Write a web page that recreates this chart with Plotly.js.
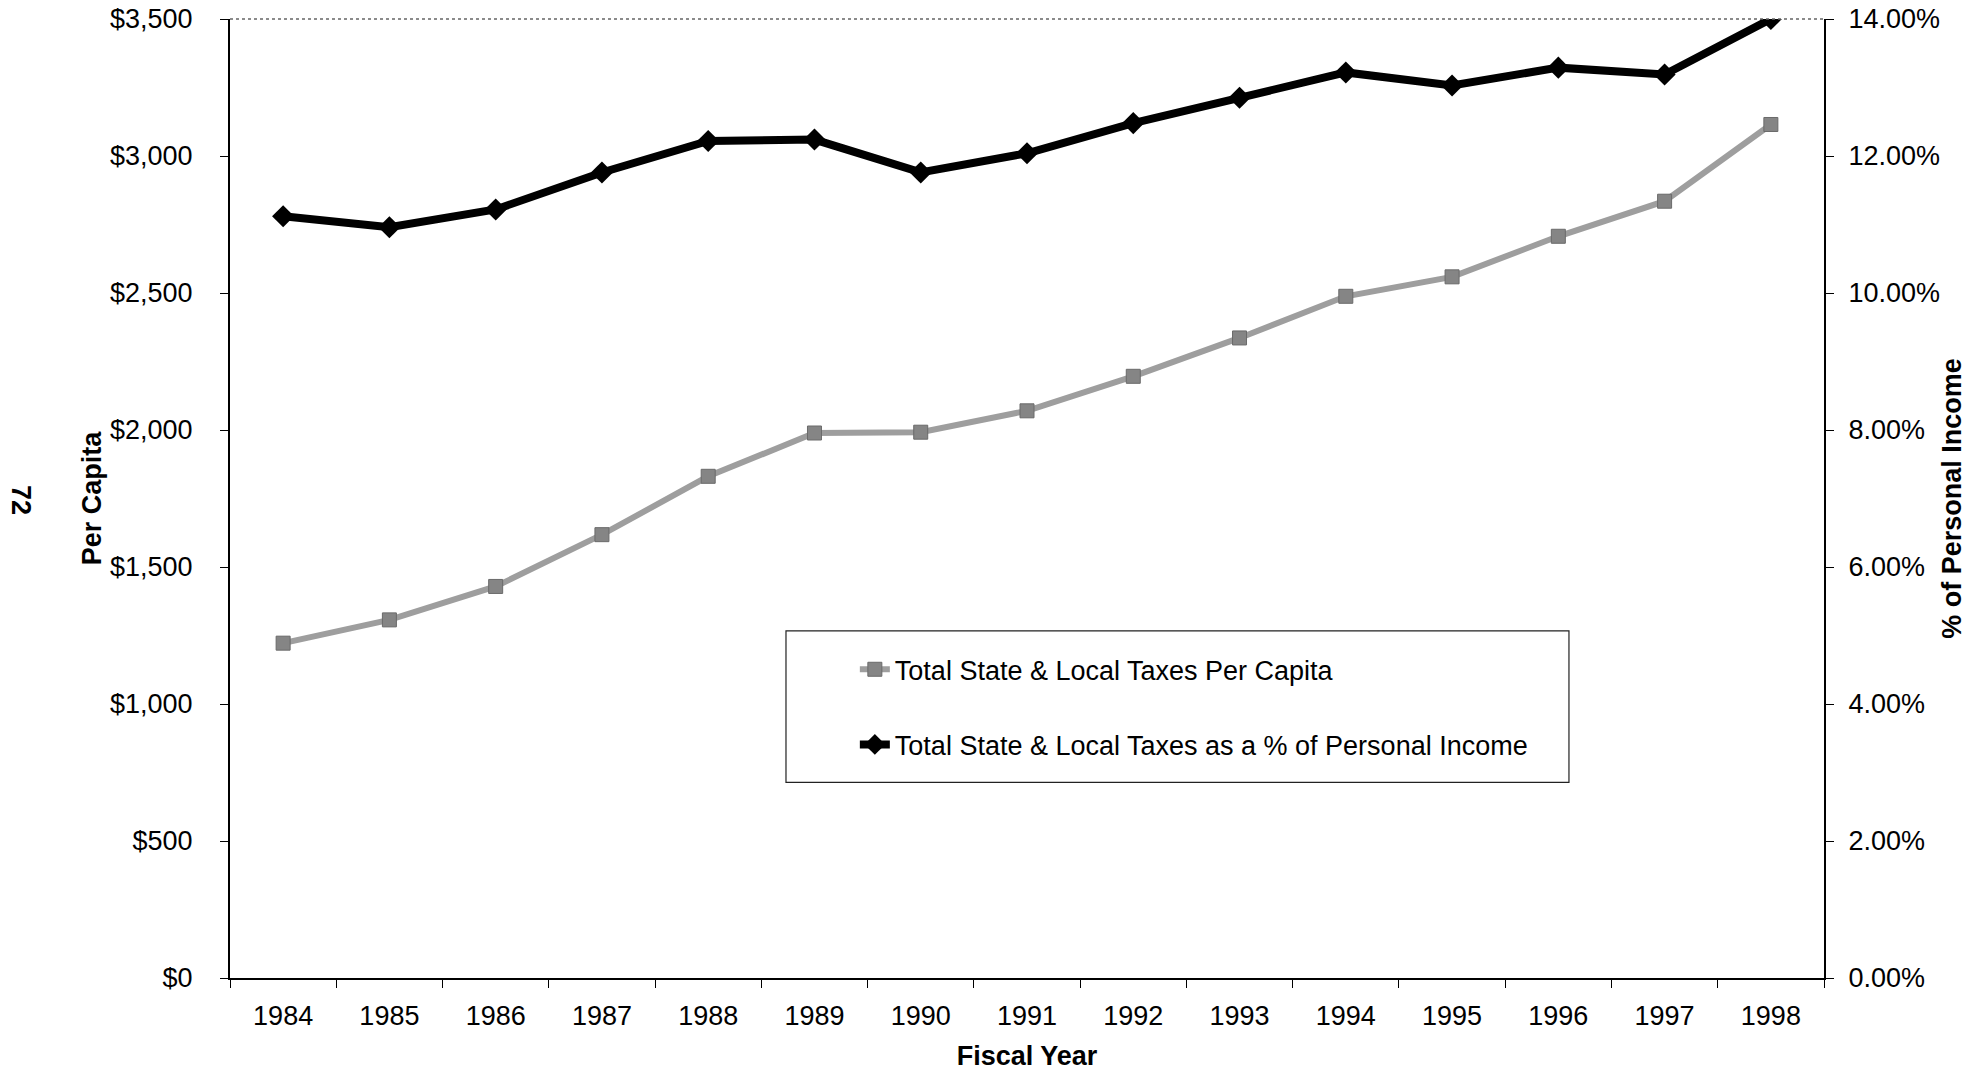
<!DOCTYPE html>
<html>
<head>
<meta charset="utf-8">
<script src="https://cdn.plot.ly/plotly-3.0.1.min.js"></script>
<style>html,body{margin:0;padding:0;background:#fff;}#chart{width:1979px;height:1071px;}</style>
</head>
<body>
<div id="chart"></div>
<script>
const years = ['1984','1985','1986','1987','1988','1989','1990','1991','1992','1993','1994','1995','1996','1997','1998'];
const perCapita = [1222, 1307, 1429, 1618, 1831, 1989, 1992, 2070, 2196, 2336, 2488, 2559, 2707, 2835, 3115];
const pctIncome = [0.1112, 0.1096, 0.1122, 0.1176, 0.1222, 0.1224, 0.1176, 0.1204, 0.1248, 0.1285, 0.1322, 0.1303, 0.1329, 0.1319, 0.1400];
const seriesNames = ['Total State & Local Taxes Per Capita', 'Total State & Local Taxes as a % of Personal Income'];

const FONT = 'Liberation Sans, Arial, sans-serif';

const traces = [
  {
    x: years, y: perCapita, name: seriesNames[0], type: 'scatter', mode: 'lines+markers',
    xaxis: 'x', yaxis: 'y', legendgroup: 'a',
    line: {color: '#9e9e9e', width: 6},
    marker: {symbol: 'square', size: 14, color: '#858585', line: {color: '#6a6a6a', width: 1}},
    hoverinfo: 'skip'
  },
  {
    x: years, y: pctIncome, name: seriesNames[1], type: 'scatter', mode: 'lines+markers',
    xaxis: 'x', yaxis: 'y2', legendgroup: 'b',
    line: {color: '#000000', width: 8},
    marker: {symbol: 'diamond', size: 17, color: '#000000'},
    hoverinfo: 'skip'
  }
];

const tickFont = {family: FONT, size: 27, color: '#000'};
const titleFont = {family: FONT, size: 27, color: '#000', weight: 'bold'};

const layout = {
  width: 1979, height: 1071,
  margin: {l: 230, r: 155, t: 19, b: 93},
  paper_bgcolor: '#fff', plot_bgcolor: '#fff',
  showlegend: true,
  legend: {
    x: 0.392, y: 0.347, xanchor: 'left', yanchor: 'top',
    bgcolor: 'rgba(0,0,0,0)', borderwidth: 0,
    font: {family: FONT, size: 27, color: '#000'},
    tracegroupgap: 37, itemwidth: 30
  },
  xaxis: {
    type: 'category', categoryorder: 'array', categoryarray: years,
    range: [-0.5, 14.5], tickson: 'boundaries',
    ticks: 'outside', ticklen: 8, tickwidth: 1, tickcolor: '#000',
    showline: true, linecolor: '#000', linewidth: 2, mirror: false,
    showgrid: false, zeroline: false,
    tickfont: tickFont, ticklabelstandoff: 13,
    title: {text: 'Fiscal Year', font: titleFont, standoff: 17}
  },
  xaxis2: {
    overlaying: 'x', anchor: 'y', side: 'bottom', range: [-0.5, 14.5],
    tick0: -0.5, dtick: 1, ticks: 'inside', ticklen: 7, tickwidth: 1, tickcolor: '#000',
    showticklabels: false, showline: false, showgrid: false, zeroline: false
  },
  yaxis: {
    range: [0, 3500], dtick: 500, tickprefix: '$', tickformat: ',',
    ticks: 'outside', ticklen: 8, tickwidth: 1, tickcolor: '#000',
    showline: true, linecolor: '#000', linewidth: 2,
    showgrid: false, zeroline: false,
    tickfont: tickFont, ticklabelstandoff: 22,
    title: {text: 'Per Capita', font: titleFont, standoff: 1}
  },
  yaxis3: {
    overlaying: 'y', anchor: 'x', side: 'left', range: [0, 3500], dtick: 500,
    ticks: 'inside', ticklen: 8, tickwidth: 1, tickcolor: '#000',
    showticklabels: false, showline: false, showgrid: false, zeroline: false
  },
  yaxis2: {
    overlaying: 'y', side: 'right', anchor: 'x',
    range: [0, 0.14], dtick: 0.02, tickformat: '.2%',
    ticks: 'outside', ticklen: 8, tickwidth: 1, tickcolor: '#000',
    showline: true, linecolor: '#000', linewidth: 2,
    showgrid: false, zeroline: false,
    tickfont: tickFont, ticklabelstandoff: 9,
    title: {text: '% of Personal Income', font: titleFont, standoff: 3}
  },
  yaxis4: {
    overlaying: 'y', side: 'right', anchor: 'x',
    range: [0, 0.14], dtick: 0.02,
    ticks: 'inside', ticklen: 8, tickwidth: 1, tickcolor: '#000',
    showticklabels: false, showline: false, showgrid: false, zeroline: false
  },
  shapes: [
    {type: 'line', xref: 'paper', yref: 'paper', x0: 0, x1: 1, y0: 1, y1: 1,
     line: {color: '#666', width: 1.5, dash: 'dot'}},
    {type: 'rect', xref: 'paper', yref: 'paper', x0: 0.3488, x1: 0.840, y0: 0.204, y1: 0.362,
     line: {color: '#222', width: 1.2}, fillcolor: 'rgba(0,0,0,0)', layer: 'below'}
  ],
  annotations: [
    {text: '72', xref: 'paper', yref: 'paper', x: -0.1314, y: 0.499, xanchor: 'center', yanchor: 'middle',
     showarrow: false, textangle: 90, font: {family: FONT, size: 27, color: '#000', weight: 'bold'}}
  ]
};

Plotly.newPlot('chart', traces, layout, {displayModeBar: false, staticPlot: true});
</script>
</body>
</html>
